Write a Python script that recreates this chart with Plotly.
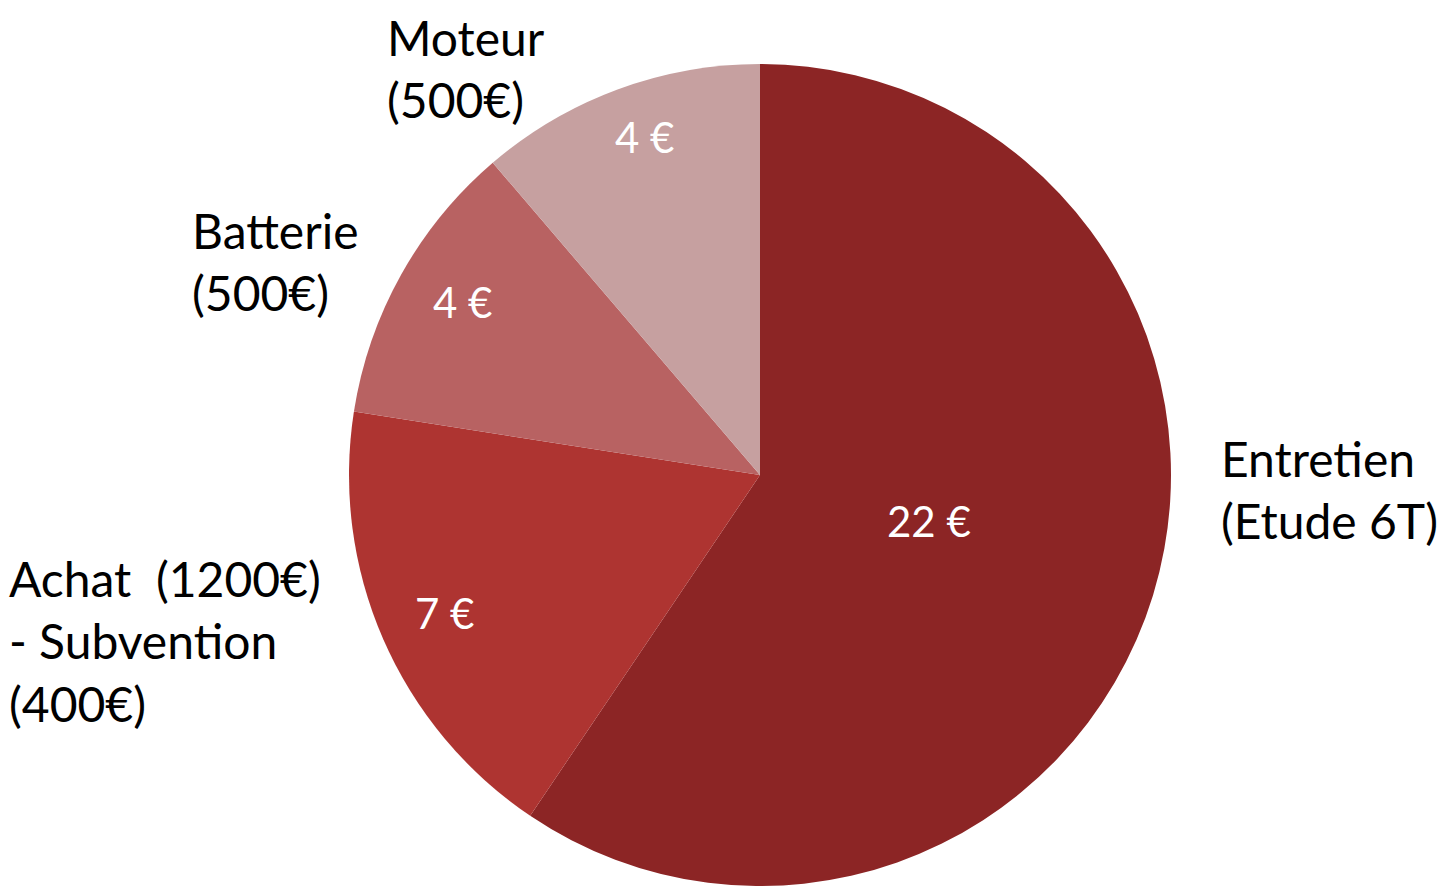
import math
import plotly.graph_objects as go

# Data (monthly cost in €)
categories = ["Entretien (Etude 6T)", "Achat (1200€) - Subvention (400€)", "Batterie (500€)", "Moteur (500€)"]
values = [22.0, 6.67, 4.17, 4.17]
outside_labels = ["Entretien<br>(Etude 6T)", "Achat  (1200€)<br>- Subvention<br>(400€)", "Batterie<br>(500€)", "Moteur<br>(500€)"]
colors = ["#8C2525", "#AE3431", "#B86262", "#C6A0A0"]

W, H = 1449, 890
cx, cy, r = 752, 467, 411          # domain placement (px)
real_cx, real_cy = 760, 475        # rendered pie centre (px)

fig = go.Figure(go.Pie(
    labels=categories,
    values=values,
    textinfo="none",
    marker=dict(colors=colors, line=dict(width=0)),
    sort=False,
    direction="clockwise",
    rotation=0,
    showlegend=False,
    hoverinfo="label+value",
    domain=dict(x=[(cx - r) / W, (cx + r) / W], y=[(H - cy - r) / H, (H - cy + r) / H]),
))

# value labels inside slices, placed at each slice's mid-angle
label_radius = [0.41, 0.86, 0.85, 0.87]
total = sum(values)
start = 0.0
for v, fr in zip(values, label_radius):
    mid = (start + v / 2) / total * 2 * math.pi
    start += v
    px = real_cx + fr * r * math.sin(mid)
    py = real_cy - fr * r * math.cos(mid) - 11
    fig.add_annotation(
        text=f"{round(v)} €", x=px / W, y=1 - py / H, xref="paper", yref="paper",
        xanchor="center", yanchor="middle", showarrow=False,
        font=dict(family="Lato", size=42, color="white"),
    )

# outside label positions (pixel coords of top-left)
label_pos = [(1212, 421), (0, 541), (183, 193), (378, 0)]
for txt, (px, py) in zip(outside_labels, label_pos):
    fig.add_annotation(
        text=txt, x=px / W, y=1 - py / H, xref="paper", yref="paper",
        xanchor="left", yanchor="top", align="left", showarrow=False,
        borderpad=0,
        font=dict(family="Lato", size=48, color="black"),
    )

fig.update_layout(
    width=W, height=H,
    margin=dict(l=0, r=0, t=0, b=0),
    paper_bgcolor="white", plot_bgcolor="white",
)
fig.write_html("out.html")
